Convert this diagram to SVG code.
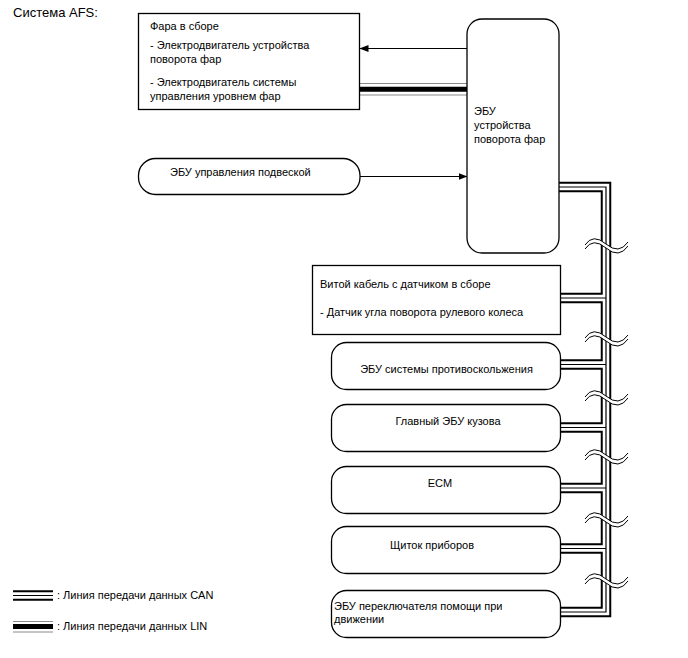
<svg xmlns="http://www.w3.org/2000/svg" xmlns:xlink="http://www.w3.org/1999/xlink" width="688" height="658" viewBox="0 0 688 658">
<style>
text{font-family:"Liberation Sans",Arial,sans-serif;font-size:11px;fill:#000}
.title{font-size:13px}
.box{fill:#fff;stroke:#000;stroke-width:1.3}
.mid{text-anchor:middle}
.arr{stroke:#000;stroke-width:1;fill:none}
.b1{fill:none;stroke:#000;stroke-width:10.5;stroke-linejoin:miter}
.b2{fill:none;stroke:#fff;stroke-width:6.5;stroke-linejoin:miter}
.b3{fill:none;stroke:#000;stroke-width:1.2;stroke-linejoin:miter}
.linb{stroke:#000;stroke-width:5;fill:none}
.ling{stroke:#8a8a8a;stroke-width:1;fill:none}
.wfill{fill:#fff;stroke:none}
.wline{fill:none;stroke:#000;stroke-width:1}
</style>
<defs>
<marker id="ah" markerWidth="9" markerHeight="7" refX="8.5" refY="3.5" orient="auto" markerUnits="userSpaceOnUse">
<path d="M0,0 L9,3.5 L0,7 Z" fill="#000"/>
</marker>
<path id="bus" d="M559,187 H606 V612 H559 M561,298 H606 M560,364.5 H606 M560,427.5 H606 M560,488 H606 M560,548.5 H606"/>
<g id="wave">
<path class="wfill" d="M585,1 Q593,-11 606,0 T628,-2 L628,2 Q619,15 606,4 Q593,-7 585,5 Z"/>
<path class="wline" d="M585,1 Q593,-11 606,0 T628,-2"/>
<path class="wline" d="M585,5 Q593,-7 606,4 T628,2"/>
</g>
</defs>

<g id="connectors">
<line class="arr" x1="467" y1="48.5" x2="360" y2="48.5" marker-end="url(#ah)"/>
<line class="ling" x1="360" y1="83.5" x2="467" y2="83.5"/>
<line class="linb" x1="360" y1="89.2" x2="467" y2="89.2"/>
<line class="ling" x1="360" y1="95" x2="467" y2="95"/>
<line class="arr" x1="360" y1="176.5" x2="467" y2="176.5" marker-end="url(#ah)"/>
<use xlink:href="#bus" class="b1"/>
<use xlink:href="#bus" class="b2"/>
<use xlink:href="#bus" class="b3"/>
<use xlink:href="#wave" transform="translate(0,244)"/>
<use xlink:href="#wave" transform="translate(0,337)"/>
<use xlink:href="#wave" transform="translate(0,396)"/>
<use xlink:href="#wave" transform="translate(0,455)"/>
<use xlink:href="#wave" transform="translate(0,518)"/>
<use xlink:href="#wave" transform="translate(0,579)"/>
</g>

<g id="title"><text class="title" x="13" y="16.5">Система AFS:</text></g>

<g id="headlamp">
<rect class="box" x="138.5" y="13.5" width="221" height="96"/>
<text x="150" y="30">Фара в сборе</text>
<text x="150" y="49">- Электродвигатель устройства</text>
<text x="150" y="63">поворота фар</text>
<text x="150" y="85.5">- Электродвигатель системы</text>
<text x="150" y="99.5">управления уровнем фар</text>
</g>

<g id="ecu-afs">
<rect class="box" x="467" y="19" width="92" height="234" rx="15"/>
<text x="474" y="115">ЭБУ</text>
<text x="474" y="129">устройства</text>
<text x="474" y="143">поворота фар</text>
</g>

<g id="suspension">
<rect class="box" x="138.5" y="158.5" width="221.5" height="36" rx="17"/>
<text x="170" y="175.5">ЭБУ управления подвеской</text>
</g>

<g id="steering">
<rect class="box" x="312.5" y="265.5" width="248" height="69"/>
<text x="320" y="288">Витой кабель с датчиком в сборе</text>
<text x="320" y="315.5">- Датчик угла поворота рулевого колеса</text>
</g>

<g id="antiskid">
<rect class="box" x="331.5" y="342.5" width="229" height="47" rx="15"/>
<text class="mid" x="446.5" y="372.5">ЭБУ системы противоскольжения</text>
</g>

<g id="body">
<rect class="box" x="331.5" y="404.5" width="229" height="47" rx="15"/>
<text class="mid" x="448" y="424.5">Главный ЭБУ кузова</text>
</g>

<g id="ecm">
<rect class="box" x="331.5" y="466.5" width="229" height="47" rx="15"/>
<text class="mid" x="440" y="487">ECM</text>
</g>

<g id="meter">
<rect class="box" x="331.5" y="526.5" width="229" height="47" rx="15"/>
<text class="mid" x="432" y="549">Щиток приборов</text>
</g>

<g id="assist">
<rect class="box" x="331.5" y="590.5" width="229" height="47" rx="15"/>
<text x="334" y="610">ЭБУ переключателя помощи при</text>
<text x="334" y="623">движении</text>
</g>

<g id="legend">
<line class="b1" x1="13" y1="595.5" x2="53" y2="595.5"/>
<line class="b2" x1="13" y1="595.5" x2="53" y2="595.5"/>
<line class="b3" x1="13" y1="595.5" x2="53" y2="595.5"/>
<text x="57" y="599">: Линия передачи данных CAN</text>
<line class="ling" x1="13" y1="621.5" x2="53" y2="621.5"/>
<line class="linb" x1="13" y1="626.5" x2="53" y2="626.5"/>
<line class="ling" x1="13" y1="632" x2="53" y2="632"/>
<text x="57" y="630">: Линия передачи данных LIN</text>
</g>
</svg>
